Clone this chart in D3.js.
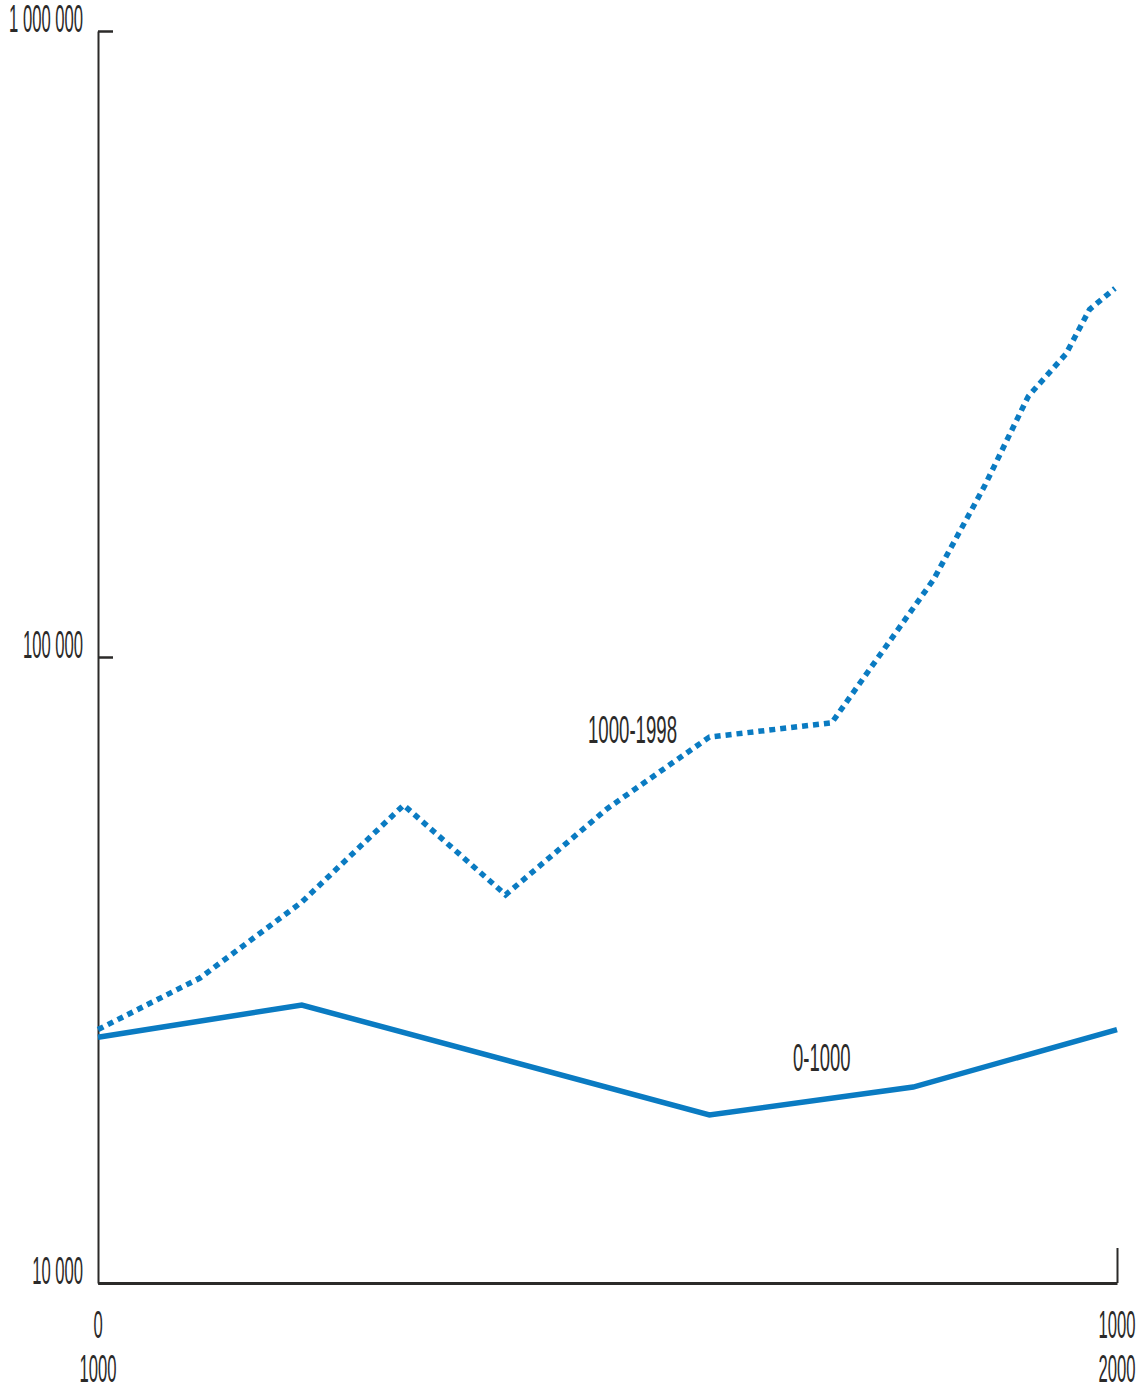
<!DOCTYPE html>
<html>
<head>
<meta charset="utf-8">
<script src="https://cdn.jsdelivr.net/npm/d3@7"></script>
<style>
  html, body { margin: 0; padding: 0; background: #ffffff; }
  svg { display: block; }
  .lbl { font-family: "Liberation Sans Narrow", "Liberation Sans", Arial, sans-serif; font-size: 38px; fill: #2b2a29; }
</style>
</head>
<body>
<script>
// Population (thousands), log scale; two millennia overlaid on one axis
const earlyYears  = [0, 200, 600, 800, 1000];
const earlyValues = [24700, 27800, 18550, 20560, 25400];

const lateYears  = [1000, 1100, 1200, 1300, 1400, 1500, 1600, 1720, 1820, 1870, 1913, 1950, 1973, 1998];
const lateValues = [25400, 30700, 40600, 58000, 41700, 57300, 74500, 78500, 133000, 187500, 261000, 305000, 359000, 388000];

const yTicks = [10000, 100000, 1000000];
const xTickRows = [["0", "1000"], ["1000", "2000"]];   // [upper, lower] label per axis end
const seriesLabels = ["1000-1998", "0-1000"];

const W = 1139, H = 1389;
const plotLeft = 98, plotRight = 1117, plotTop = 31, plotBottom = 1283;
const blue = "#0a7bc2";
const ink = "#2b2a29";

const svg = d3.select("body").append("svg").attr("width", W).attr("height", H);

const y = d3.scaleLog().domain([10000, 1000000]).range([plotBottom, plotTop]);
const xEarly = d3.scaleLinear().domain([0, 1000]).range([plotLeft, plotRight]);
const xLate = d3.scaleLinear().domain([1000, 2000]).range([plotLeft, plotRight]);

// horizontal squeeze so the label face reads as a condensed type
const probe = svg.append("text").attr("class", "lbl").text("0000");
const sx = 37 / probe.node().getComputedTextLength();
probe.remove();

function label(x, yb, txt, anchor, widen = 1) {
  const g = svg.append("g").attr("transform", `translate(${x},${yb}) scale(${sx * widen},1)`);
  g.append("text").attr("class", "lbl").attr("text-anchor", anchor).text(txt);
}

// y axis with inward ticks
const yAxis = d3.axisLeft(y).tickValues(yTicks).tickSize(-15).tickSizeOuter(0).tickFormat("");
const gy = svg.append("g").attr("transform", `translate(${plotLeft},0)`).call(yAxis);
gy.select(".domain").attr("stroke", ink).attr("stroke-width", 2);
gy.selectAll(".tick line").attr("stroke", ink).attr("stroke-width", 2.5);

// x axis baseline and right end tick
const xAxis = d3.axisBottom(xEarly).tickValues([1000]).tickSize(-35).tickSizeOuter(0).tickFormat("");
const gx = svg.append("g").attr("transform", `translate(0,${plotBottom})`).call(xAxis);
gx.select(".domain").attr("stroke", ink).attr("stroke-width", 3);
gx.selectAll(".tick line").attr("stroke", ink).attr("stroke-width", 2);

// y tick labels
const fmt = d => d3.format(",")(d).replace(/,/g, " ");
yTicks.forEach(v => label(plotLeft - 15, y(v) + 1, fmt(v), "end"));

// x tick labels (two rows: first and second millennium)
const ends = [xEarly(0), xEarly(1000)];
xTickRows.forEach((pair, i) => {
  label(ends[i], 1338, pair[0], "middle");
  label(ends[i], 1382, pair[1], "middle");
});

// series lines
const lineEarly = d3.line().x(d => xEarly(d[0])).y(d => y(d[1]));
const lineLate = d3.line().x(d => xLate(d[0])).y(d => y(d[1]));

svg.append("path")
  .datum(d3.zip(earlyYears, earlyValues))
  .attr("d", lineEarly)
  .attr("fill", "none")
  .attr("stroke", blue)
  .attr("stroke-width", 5.5)
  .attr("stroke-linejoin", "miter");

svg.append("path")
  .datum(d3.zip(lateYears, lateValues))
  .attr("d", lineLate)
  .attr("fill", "none")
  .attr("stroke", blue)
  .attr("stroke-width", 5.5)
  .attr("stroke-dasharray", "6,5")
  .attr("stroke-linejoin", "miter");

// series labels, set a little wider than the axis labels
label(588, 743, seriesLabels[0], "start", 1.12);
label(793, 1071, seriesLabels[1], "start", 1.11);
</script>
</body>
</html>
